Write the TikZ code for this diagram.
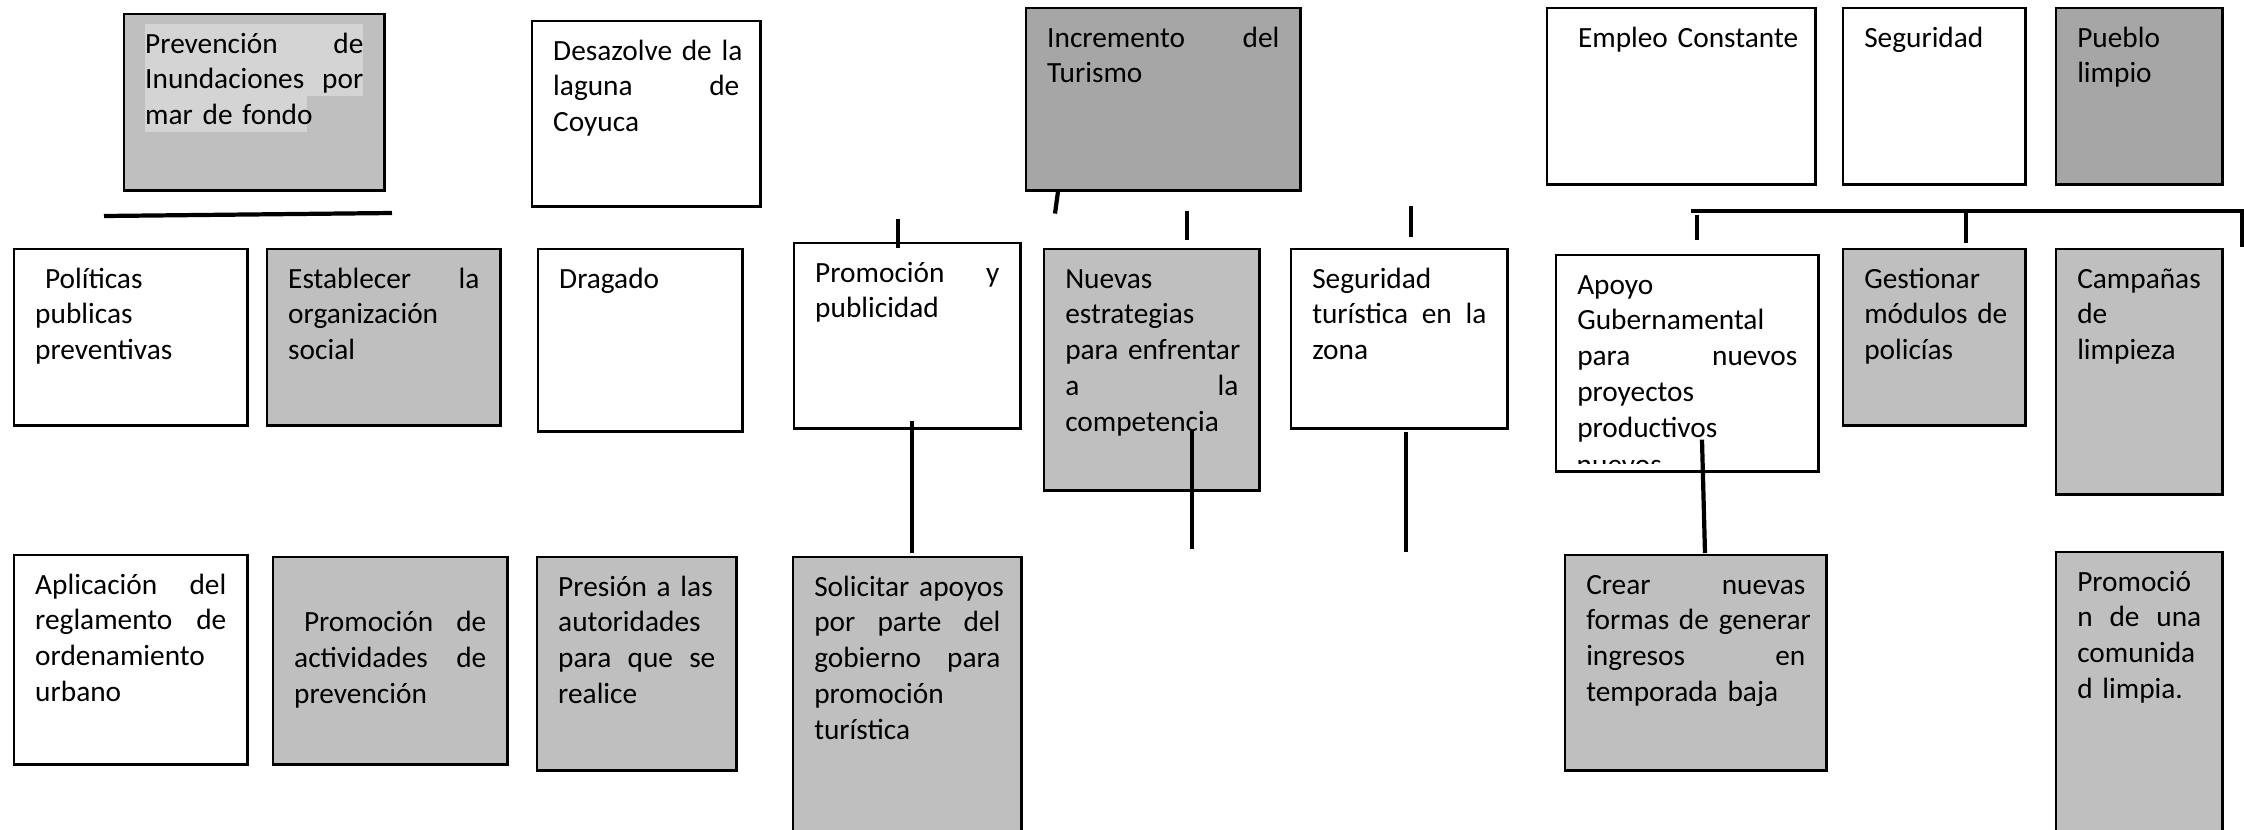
\documentclass[tikz,border=0pt]{standalone}
\usepackage{fontspec}
\setmainfont{Carlito}
\usepackage{tikz}
\usetikzlibrary{calc}
\definecolor{grisclaro}{RGB}{191,191,191}
\definecolor{grisoscuro}{RGB}{166,166,166}
\definecolor{resalte}{RGB}{212,212,212}
\newcommand{\cardsize}{\fontsize{8.34pt}{10.16pt}\selectfont\hyphenpenalty=10000\exhyphenpenalty=10000\hbadness=10000\hfuzz=20pt }
\tikzset{card/.style={draw, line width=0.7pt, anchor=north west, align=left, inner xsep=0.21cm, inner ysep=0pt, text height=0.39cm, font=\cardsize},
claro/.style={card, fill=grisclaro},
oscuro/.style={card, fill=grisoscuro},
wire/.style={line width=1.2pt}}

\begin{document}
\begin{tikzpicture}[x=0.01cm, y=-0.01cm]
  \fill[white] (0,0) rectangle (2244,830);
  \useasboundingbox (0,0) rectangle (2244,830);
  \clip (0,0) rectangle (2244,830);

  \node[claro, text width=2.18cm, text depth=1.37cm, path picture={
      \fill[resalte] ($(path picture bounding box.north west)+(21,10)$) rectangle ++(218,72);
      \fill[resalte] ($(path picture bounding box.north west)+(21,82)$) rectangle ++(162,36);}]
    (prev) at (123,13) {Prevención\hfill de\\Inundaciones\hfill por\\mar~de~fondo};
  \node[card, text width=1.86cm, text depth=1.46cm] (desaz) at (531,20) {Desazolve~de~la\\laguna\hfill de\\Coyuca};
  \node[oscuro, text width=2.32cm, text depth=1.43cm] (incr) at (1025,7) {Incremento\hfill del\\Turismo};
  \node[card, text width=2.26cm, text depth=1.37cm] (empleo) at (1546,7) {~Empleo~Constante};
  \node[card, text width=1.40cm, text depth=1.37cm] (segur) at (1842,7) {Seguridad};
  \node[oscuro, text width=1.24cm, text depth=1.37cm] (pueblo) at (2055,7) {Pueblo\\limpio};

  \node[card, text width=1.91cm, text depth=1.37cm] (polit) at (13,248) {~Políticas\\publicas\\preventivas};
  \node[claro, text width=1.91cm, text depth=1.37cm] (estab) at (266,248) {Establecer\hfill la\\organización\\social};
  \node[card, text width=1.62cm, text depth=1.43cm] (drag) at (537,248) {Dragado};
  \node[card, text width=1.84cm, text depth=1.46cm] (promo) at (793,242) {Promoción\hfill y\\publicidad};
  \node[claro, text width=1.73cm, text depth=2.02cm] (nuevas) at (1043,248) {Nuevas\\estrategias\\para~enfrentar\\a\hfill la\\competencia};
  \node[card, text width=1.74cm, text depth=1.40cm] (segtur) at (1290,248) {Seguridad\\turística\hfill en\hfill la\\zona};
  \node[card, text width=2.20cm, text depth=1.77cm] (apoyo) at (1555,254) {Apoyo\\Gubernamental\\para\hfill nuevos\\proyectos\\productivos};
  \begin{scope}
    \clip ($(apoyo.south west)+(20,-13)$) rectangle ($(apoyo.south west)+(240,-9)$);
    \node[anchor=base west, inner sep=0pt, font=\cardsize] (apoyoresto) at ($(apoyo.south west)+(21,2)$) {nuevos};
  \end{scope}
  \node[claro, text width=1.40cm, text depth=1.37cm] (gestion) at (1842,248) {Gestionar\\módulos~de\\policías};
  \node[claro, text width=1.24cm, text depth=2.06cm] (campan) at (2055,248) {Campañas\\de\\limpieza};

  \node[card, text width=1.91cm, text depth=1.70cm] (aplic) at (13,554) {Aplicación\hfill del\\reglamento\hfill de\\ordenamiento\\urbano};
  \node[claro, text width=1.92cm, text depth=1.68cm] (promact) at (272,556) {\mbox{}\\~Promoción\hfill de\\actividades\hfill de\\prevención};
  \node[claro, text width=1.57cm, text depth=1.74cm] (presion) at (536,556) {Presión~a~las\\autoridades\\para\hfill que\hfill se\\realice};
  \node[claro, text width=1.86cm, text depth=2.51cm] (solic) at (792,556) {Solicitar~apoyos\\por\hfill parte\hfill del\\gobierno\hfill para\\promoción\\turística};
  \node[claro, text width=2.19cm, text depth=1.76cm] (crear) at (1564,554) {Crear\hfill nuevas\\formas~de~generar\\ingresos\hfill en\\temporada~baja};
  \node[claro, text width=1.24cm, text depth=2.51cm] (promcom) at (2055,551) {Promoció\\n\hfill de\hfill una\\comunida\\d~limpia.};

  \coordinate (lineaA) at (104,216);
  \coordinate (lineaB) at (392,213);
  \draw[wire] (lineaA) -- (lineaB);
  \draw[wire] ($(incr.south west)+(33,0)$) -- ++(-3,22);
  \draw[wire] ($(promo.north west)+(105,-23)$) -- ++(0,29);
  \draw[wire] ($(nuevas.north west)+(144,-37)$) -- ++(0,29);
  \draw[wire] ($(segtur.north west)+(121,-42)$) -- ++(0,31);
  \draw[wire] ($(promo.south west)+(119,-9)$) -- ($(solic.north west)+(120,-3)$);
  \coordinate (finN) at (1192,549);
  \draw[wire] ($(nuevas.south west)+(149,-61)$) -- (finN);
  \coordinate (finS) at (1406,552);
  \draw[wire] ($(segtur.south west)+(116,2)$) -- (finS);
  \draw[wire] ($(apoyo.south west)+(147,-33)$) -- ($(crear.north west)+(141,-1)$);
  \coordinate (barra) at (1691,211);
  \draw[wire] (barra) -- ++(551,0) -- ++(0,36);
  \draw[wire] ($(apoyo.north west)+(142,-39)$) -- ++(0,25);
  \draw[wire] ($(gestion.north west)+(124,-37)$) -- ++(0,32);
\end{tikzpicture}
\end{document}
